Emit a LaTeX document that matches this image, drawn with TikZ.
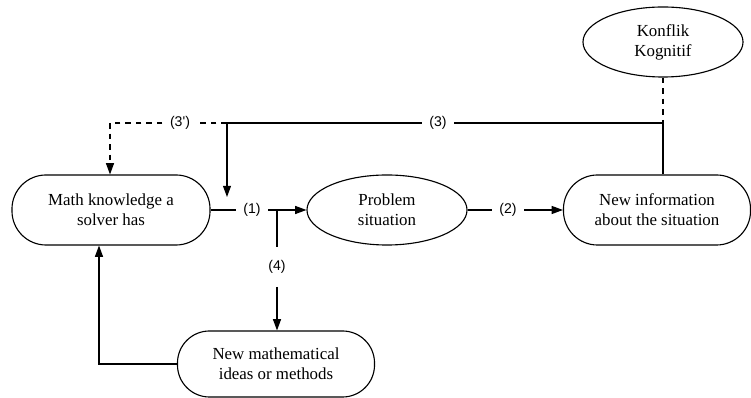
\documentclass[tikz,border=0pt]{standalone}
\usepackage{fontspec}
\setmainfont{Liberation Serif}
\newfontfamily\labelfont{Liberation Sans}
\usetikzlibrary{shapes.geometric, arrows.meta}

\begin{document}
\begin{tikzpicture}[x=0.025cm, y=-0.025cm, line width=0.8pt,
    box/.style={draw, rounded corners=0.85cm, align=center, minimum height=1.75cm, font=\fontsize{12}{14.2}\selectfont},
    oval/.style={draw, ellipse, align=center, minimum width=4cm, minimum height=1.75cm, inner sep=0pt, font=\fontsize{12}{14.2}\selectfont},
    lbl/.style={font=\labelfont\fontsize{10}{12}\selectfont, inner sep=5pt},
    tip/.style={-{Triangle[length=0.28cm, width=0.2cm]}},
    dashline/.style={dash pattern=on 4pt off 3.5pt}]
    \useasboundingbox (0,0) rectangle (751,398);

    % Boxes and ovals
    \node[box, minimum width=4.95cm] (math) at (111,210) {Math knowledge a\\solver has};
    \node[oval] (problem) at (387,210) {Problem\\situation};
    \node[box, minimum width=4.675cm] (newinfo) at (657,210) {New information\\about the situation};
    \node[oval] (konflik) at (663,42) {Konflik\\Kognitif};
    \node[box, minimum width=4.925cm, minimum height=1.65cm, rounded corners=0.8cm] (newmath) at (276,364) {New mathematical\\ideas or methods};

    % Corner points
    \coordinate (j3r) at (663,123);
    \coordinate (j3l) at (227,123);
    \coordinate (j3d) at (110,123);
    \coordinate (j4) at (277,210);
    \coordinate (end3) at (227,197);

    % Step labels
    \node[lbl] (l1) at (252,210) {(1)};
    \node[lbl] (l2) at (508,210) {(2)};
    \node[lbl] (l3) at (438,123) {(3)};
    \node[lbl] (l3p) at (180,123) {(3')};
    \node[lbl, inner ysep=9pt] (l4) at (277,267) {(4)};

    % (1) and (2)
    \draw (math.east) -- (l1);
    \draw[tip] (l1) -- (problem.west);
    \draw (problem.east) -- (l2);
    \draw[tip] (l2) -- (newinfo.west);

    % (3) and (3')
    \draw[dashline] (konflik.south) -- (j3r);
    \draw (j3r |- newinfo.north) -- (j3r) -- (l3);
    \draw (l3) -- (j3l);
    \draw[tip] (j3l) -- (end3);
    \draw[dashline] (j3l) -- (l3p);
    \draw[dashline] (l3p) -- (j3d);
    \draw[dashline, tip] (j3d) -- (j3d |- math.north);

    % (4) and back
    \draw (j4) -- (l4);
    \draw[tip] (l4) -- (l4 |- newmath.north);
    \draw[tip] (newmath.west) -| ([xshift=-0.3cm]math.south);
\end{tikzpicture}
\end{document}
